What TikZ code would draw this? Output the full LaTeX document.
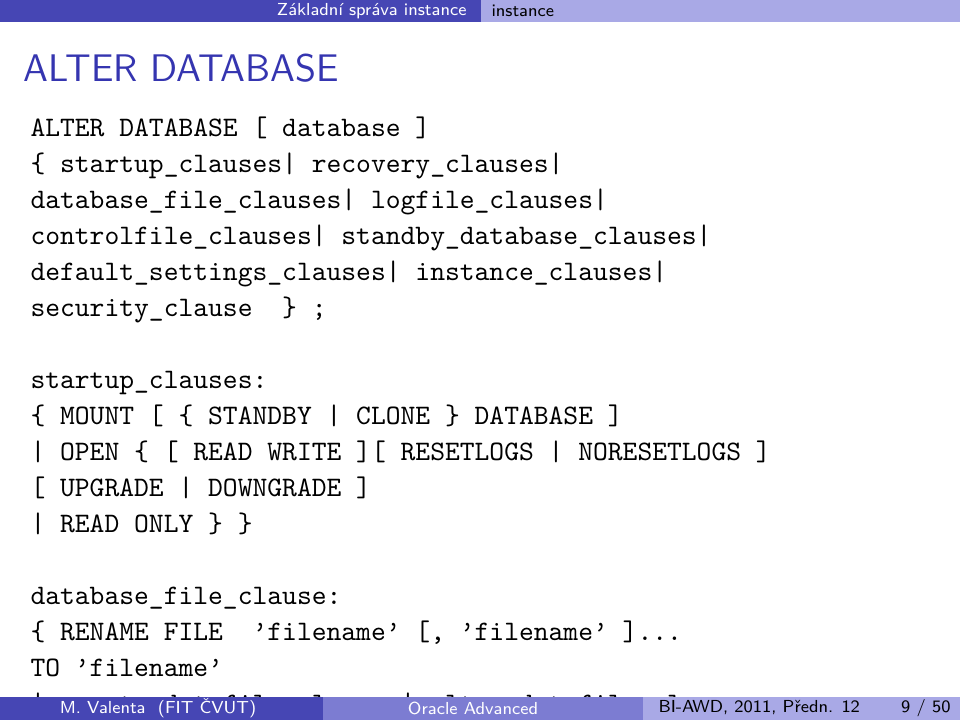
\documentclass[tikz,border=0pt]{standalone}
\usepackage{fontspec}
\definecolor{dk}{HTML}{4646B4}
\definecolor{md}{HTML}{7C7CD2}
\definecolor{lt}{HTML}{A9A9E6}
\definecolor{ttl}{HTML}{3535B0}
\begin{document}
\begin{tikzpicture}[x=0.013333cm,y=-0.013333cm,
  code/.style={anchor=base west,inner sep=0,font=\fontsize{10.7}{13}\ttfamily},
  bar/.style={font=\fontsize{6.6}{8}\sffamily,inner sep=0}]
\useasboundingbox (0,0) rectangle (960,720);
\fill[white] (0,0) rectangle (960,720);
% header
\fill[dk] (0,0) rectangle (481,22);
\fill[lt] (481,0) rectangle (960,22);
\node[bar,text=white,anchor=east] (h1) at (467,11) {Základní správa instance};
\node[bar,anchor=west] (h2) at (491,11) {instance};
% title
\node[anchor=base west,inner sep=0,text=ttl,font=\fontsize{14.6}{18}\sffamily] (t) at (23,81) {ALTER DATABASE};
% code
\foreach \y/\t [count=\i] in {
136/{ALTER DATABASE [ database ]},
172/{\{ startup\_clauses| recovery\_clauses|},
208/{database\_file\_clauses| logfile\_clauses|},
244/{controlfile\_clauses| standby\_database\_clauses|},
280/{default\_settings\_clauses| instance\_clauses|},
316/{security\_clause \ \} ;},
388/{startup\_clauses:},
424/{\{ MOUNT [ \{ STANDBY | CLONE \} DATABASE ]},
460/{| OPEN \{ [ READ WRITE ][ RESETLOGS | NORESETLOGS ]},
496/{[ UPGRADE | DOWNGRADE ]},
532/{| READ ONLY \} \}},
604/{database\_file\_clause:},
640/{\{ RENAME FILE \ ’filename’ [, ’filename’ ]...},
676/{TO ’filename’}}
  \node[code] (c\i) at (30,\y) {\t};
\begin{scope}
\clip (0,680) rectangle (960,697);
\node[code] (c15) at (30,712) {| create\_datafile\_clause | alter\_datafile\_clause};
\end{scope}
% footer
\fill[dk] (0,697) rectangle (323,720);
\fill[md] (323,697) rectangle (643,720);
\fill[lt] (643,697) rectangle (960,720);
\node[bar,text=white] (f1) at (158,708) {M. Valenta \ (FIT ČVUT)};
\node[bar,text=white] (f2) at (473,708) {Oracle Advanced};
\node[bar,anchor=west] (f3) at (658,708) {BI-AWD, 2011, Předn. 12};
\node[bar,anchor=east] (f4) at (951,708) {9 / 50};
\end{tikzpicture}
\end{document}
